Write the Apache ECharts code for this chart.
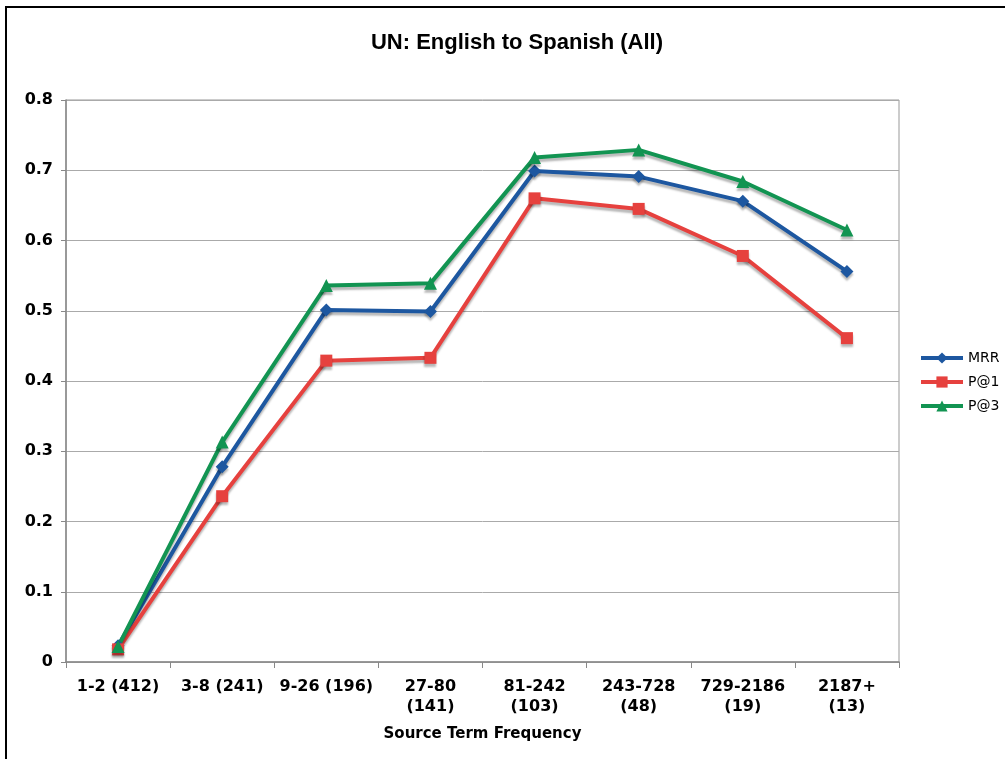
<!DOCTYPE html>
<html><head><meta charset="utf-8">
<script src="https://cdn.jsdelivr.net/npm/echarts@6/dist/echarts.min.js"></script>
<style>html,body{margin:0;padding:0;background:#fff}#c{width:1005px;height:759px}</style>
</head><body><div id="c"></div>
<script>
const categories = ['1-2 (412)', '3-8 (241)', '9-26 (196)', '27-80\n(141)', '81-242\n(103)', '243-728\n(48)', '729-2186\n(19)', '2187+\n(13)'];
const mrr = [0.023, 0.278, 0.501, 0.499, 0.699, 0.691, 0.656, 0.556];
const p1 = [0.018, 0.236, 0.429, 0.433, 0.660, 0.645, 0.578, 0.461];
const p3 = [0.022, 0.313, 0.536, 0.539, 0.718, 0.729, 0.684, 0.615];
const yTicks = [0, 0.1, 0.2, 0.3, 0.4, 0.5, 0.6, 0.7, 0.8];

const chart = echarts.init(document.getElementById('c'));
const font = 'DejaVu Sans';
function ser(name, data, color, symbol, size) {
  return {
    name, type: 'line', data, symbol, symbolSize: size,
    lineStyle: { width: 4, color, shadowColor: 'rgba(0,0,0,0.28)', shadowOffsetY: 3, shadowBlur: 2 },
    itemStyle: { color, shadowColor: 'rgba(0,0,0,0.28)', shadowOffsetY: 3, shadowBlur: 2 },
    animation: false
  };
}
chart.setOption({
  animation: false,
  title: { text: 'UN: English to Spanish (All)', left: 512, top: 27, textAlign: 'center',
    textStyle: { fontFamily: 'Liberation Sans', fontWeight: 'bold', fontSize: 22, color: '#000' } },
  graphic: [{ type: 'rect', shape: { x: 6, y: 7, width: 1010, height: 760 },
    style: { fill: 'none', stroke: '#000', lineWidth: 2 } }],
  legend: {
    orient: 'vertical', left: 914, top: 346, itemGap: 10, itemWidth: 42, itemHeight: 14,
    lineStyle: { width: 4, shadowBlur: 0, shadowOffsetY: 0 },
    itemStyle: { shadowBlur: 0, shadowOffsetY: 0 },
    textStyle: { fontFamily: font, fontSize: 14, color: '#000', padding: [0,0,0,0] },
    data: ['MRR', 'P@1', 'P@3']
  },
  grid: { left: 66, right: 106, top: 100, bottom: 97, show: true, borderColor: '#999', borderWidth: 1 },
  xAxis: {
    type: 'category', data: categories, boundaryGap: true,
    name: 'Source Term Frequency', nameLocation: 'middle', nameGap: 65,
    nameTextStyle: { fontFamily: font, fontWeight: 'bold', fontSize: 15, color: '#000' },
    axisLine: { lineStyle: { color: '#888', width: 1.5 } },
    axisTick: { show: true, length: 6, lineStyle: { color: '#888' } },
    axisLabel: { interval: 0, margin: 15, fontFamily: font, fontWeight: 'bold', fontSize: 16, color: '#000', lineHeight: 20 }
  },
  yAxis: {
    type: 'value', min: 0, max: 0.8, interval: 0.1,
    axisLine: { show: true, lineStyle: { color: '#888', width: 1.5 } },
    axisTick: { show: true, length: 5, lineStyle: { color: '#888' } },
    splitLine: { lineStyle: { color: '#aaa', width: 1 } },
    axisLabel: { margin: 13, fontFamily: font, fontWeight: 'bold', fontSize: 16, color: '#000',
      formatter: v => { const t = yTicks.find(x => Math.abs(x - v) < 1e-9); return t === 0 ? '0' : t.toFixed(1); } }
  },
  series: [
    ser('MRR', mrr, '#1d57a0', 'diamond', 13),
    ser('P@1', p1, '#e6413e', 'rect', 12),
    ser('P@3', p3, '#129452', 'triangle', 13)
  ]
});
</script></body></html>
